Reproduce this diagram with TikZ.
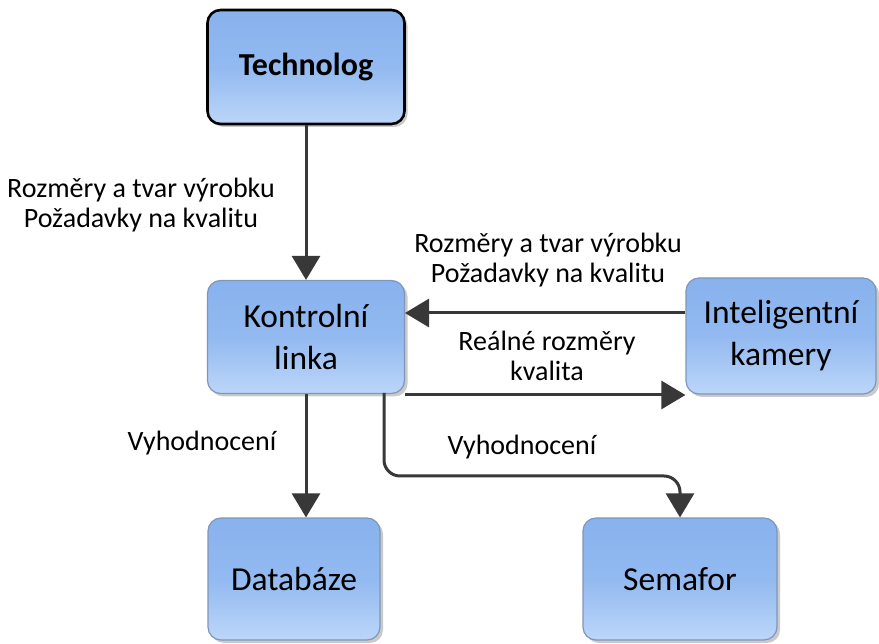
\documentclass[tikz,border=0pt]{standalone}
\usepackage{fontspec}
\setmainfont{Carlito}
\usetikzlibrary{arrows.meta,shadows}
\definecolor{boxtop}{HTML}{88B2EE}
\definecolor{boxbot}{HTML}{BCD6F9}
\definecolor{boxline}{HTML}{7F96B8}
\definecolor{arr}{HTML}{383838}
\tikzset{
  blk/.style={rounded corners=13pt, draw=boxline, line width=1.2pt,
    top color=boxtop, bottom color=boxbot, middle color=boxtop!80!boxbot,
    drop shadow={shadow xshift=3pt, shadow yshift=-3pt, fill=black!35, opacity=0.6},
    align=center, font=\fontsize{33.5}{42}\selectfont, inner sep=0pt},
  conn/.style={draw=arr, line width=3pt, -{Triangle[width=28pt,length=24pt]}},
  lbl/.style={align=center, font=\fontsize{28}{30}\selectfont, inner sep=0pt}
}
\begin{document}
\begin{tikzpicture}[x=1pt,y=-1pt]
\useasboundingbox (0,0) rectangle (879,644);
\node[blk, draw=black, line width=2.6pt, minimum width=197pt, minimum height=114pt, font=\fontsize{32}{40}\selectfont\bfseries] (tech) at (306,67) {Technolog};
\node[blk, minimum width=197pt, minimum height=113pt] (kl) at (306,337) {Kontrolní\\linka};
\node[blk, minimum width=190pt, minimum height=116pt] (cam) at (781,336) {Inteligentní\\kamery};
\node[blk, minimum width=172pt, minimum height=122pt] (db) at (294,579) {Databáze};
\node[blk, minimum width=194pt, minimum height=122pt] (sem) at (680,579) {Semafor};
\coordinate (kr1) at (405,313);
\coordinate (kr2) at (405,395);
\coordinate (kb) at (384,393);
\draw[conn] (tech.south -| 306,0) -- (kl.north -| 306,0);
\draw[conn] (cam.west |- kr1) -- (kr1);
\draw[conn] (kr2) -- (cam.west |- kr2);
\draw[conn] (kl.south -| 306,0) -- (db.north -| 306,0);
\draw[conn, rounded corners=16pt] (kb) -- (384,476) -- (680,476) -- (sem.north);
\node[lbl] (l1) at (141,205) {Rozměry a tvar výrobku\\Požadavky na kvalitu};
\node[lbl] (l2) at (548,260) {Rozměry a tvar výrobku\\Požadavky na kvalitu};
\node[lbl] (l3) at (547,356) {Reálné rozměry\\kvalita};
\node[lbl] (l4) at (202,443) {Vyhodnocení};
\node[lbl] (l5) at (522,447) {Vyhodnocení};
\end{tikzpicture}
\end{document}
